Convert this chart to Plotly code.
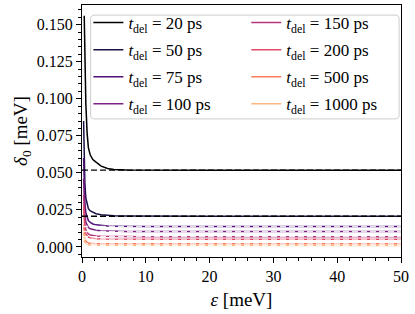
import plotly.graph_objects as go

# detuning grid (meV) and delta_0 curves (meV) for each delay time
eps = [0.25, 0.35, 0.45, 0.6, 0.8, 1.0, 1.3, 1.7, 2.2, 3.0, 4.0, 5.0, 7.0, 10.0, 20.0, 30.0, 40.0, 50.0]

t_del = [20, 50, 75, 100, 150, 200, 500, 1000]

d20 = [None, 0.156, 0.125, 0.097, 0.077, 0.067, 0.062, 0.059, 0.0572, 0.0545, 0.0530, 0.0523, 0.0520, 0.0519, 0.0518, 0.0518, 0.0518, 0.0518]
d50 = [0.085, 0.058, 0.043, 0.033, 0.028, 0.0258, 0.0243, 0.0232, 0.0224, 0.0217, 0.0212, 0.0210, 0.0208, 0.0207, 0.0207, 0.0207, 0.0207, 0.0207]
d75 = [0.060, 0.040, 0.030, 0.023, 0.0195, 0.0178, 0.0165, 0.0155, 0.0149, 0.0144, 0.0141, 0.0140, 0.0139, 0.0138, 0.0138, 0.0138, 0.0138, 0.0138]
d100 = [0.046, 0.030, 0.022, 0.0168, 0.0142, 0.0131, 0.0122, 0.0116, 0.0112, 0.0109, 0.0107, 0.0105, 0.0104, 0.0104, 0.0104, 0.0104, 0.0104, 0.0104]
d150 = [0.035, 0.022, 0.0155, 0.0115, 0.0095, 0.0087, 0.0081, 0.0077, 0.0074, 0.0072, 0.0071, 0.0070, 0.0069, 0.0069, 0.0069, 0.0069, 0.0069, 0.0069]
d200 = [0.028, 0.017, 0.012, 0.0088, 0.0072, 0.0066, 0.0061, 0.0058, 0.0056, 0.0054, 0.0053, 0.0052, 0.0052, 0.0052, 0.0052, 0.0052, 0.0052, 0.0052]
d500 = [0.015, 0.008, 0.0055, 0.0038, 0.0030, 0.0027, 0.0025, 0.0023, 0.0022, 0.0022, 0.0021, 0.0021, 0.0021, 0.0021, 0.0021, 0.0021, 0.0021, 0.0021]
d1000 = [0.009, 0.0045, 0.003, 0.002, 0.0016, 0.0014, 0.0013, 0.0012, 0.0011, 0.00108, 0.00106, 0.00105, 0.00104, 0.00104, 0.00104, 0.00104, 0.00104, 0.00104]

curves = [d20, d50, d75, d100, d150, d200, d500, d1000]

# asymptotic plateau values (dashed)
plateau = [0.0518, 0.0207, 0.0138, 0.0104, 0.0069, 0.0052, 0.0021, 0.00104]

# magma sampled at linspace(0, 0.85, 8)
colors = ['#000004', '#1d1147', '#4f127b', '#7a2281', '#b2357b', '#e14d66', '#fa7e5e', '#feb77e']
dash_colors = ['black', 'black'] + ['rgba(255,255,255,0.85)'] * 6

FONT = 'Liberation Serif'

fig = go.Figure()

for i, (t, y) in enumerate(zip(t_del, curves)):
    fig.add_trace(go.Scatter(
        x=eps, y=y, mode='lines',
        line=dict(color=colors[i], width=1.5),
        name=f'<i>t</i><sub>del</sub> = {t} ps',
        legendgroup=str(t),
        legend='legend' if i < 4 else 'legend2',
    ))

for i, p in enumerate(plateau):
    fig.add_trace(go.Scatter(
        x=[0, eps[-1]], y=[p, p], mode='lines',
        line=dict(color=dash_colors[i], width=1.3, dash='6px,3px'),
        showlegend=False, hoverinfo='skip',
    ))

# rounded legend frame
rx, ry = 0.0125, 0.016
x0, x1, y0, y1 = 0.027, 0.994, 0.548, 0.960
path = (f'M {x0+rx},{y1} L {x1-rx},{y1} Q {x1},{y1} {x1},{y1-ry} '
        f'L {x1},{y0+ry} Q {x1},{y0} {x1-rx},{y0} L {x0+rx},{y0} '
        f'Q {x0},{y0} {x0},{y0+ry} L {x0},{y1-ry} Q {x0},{y1} {x0+rx},{y1} Z')
fig.add_shape(type='path', path=path, xref='paper', yref='paper',
              line=dict(color='#cccccc', width=1), fillcolor='rgba(255,255,255,0.8)',
              layer='above')

legend_style = dict(font=dict(family=FONT, size=17, color='black'),
                    bgcolor='rgba(0,0,0,0)', borderwidth=0,
                    yanchor='top', y=1.0, xanchor='left',
                    tracegroupgap=2, itemwidth=30)

fig.update_layout(
    width=415, height=314,
    margin=dict(l=82, r=14, t=5, b=57),
    plot_bgcolor='white', paper_bgcolor='white',
    font=dict(family=FONT, size=16, color='black'),
    legend=dict(x=0.02, **legend_style),
    legend2=dict(x=0.515, **legend_style),
    xaxis=dict(
        range=[0, 50], tickvals=[0, 10, 20, 30, 40, 50],
        showgrid=False, zeroline=False,
        showline=True, linecolor='black', linewidth=1, mirror=True,
        ticks='outside', ticklen=5, tickwidth=1, tickcolor='black',
        minor=dict(dtick=2, ticks='outside', ticklen=3, tickcolor='black', showgrid=False),
        title=dict(text='<i>ε</i> [meV]', standoff=8),
    ),
    yaxis=dict(
        range=[-0.0068, 0.1633], tickvals=[0, 0.025, 0.05, 0.075, 0.1, 0.125, 0.15],
        tickformat='.3f', ticksuffix='\u00a0\u2009',
        showgrid=False, zeroline=False,
        showline=True, linecolor='black', linewidth=1, mirror=True,
        ticks='outside', ticklen=5, tickwidth=1, tickcolor='black',
        minor=dict(dtick=0.005, tick0=0, ticks='outside', ticklen=3, tickcolor='black', showgrid=False),
        title=dict(text='<i>δ</i><sub>0</sub> [meV]', standoff=4),
    ),
)

fig.write_html('out.html', config={'displayModeBar': False},
               post_script="document.body.style.margin='0';document.body.style.overflow='hidden';")
